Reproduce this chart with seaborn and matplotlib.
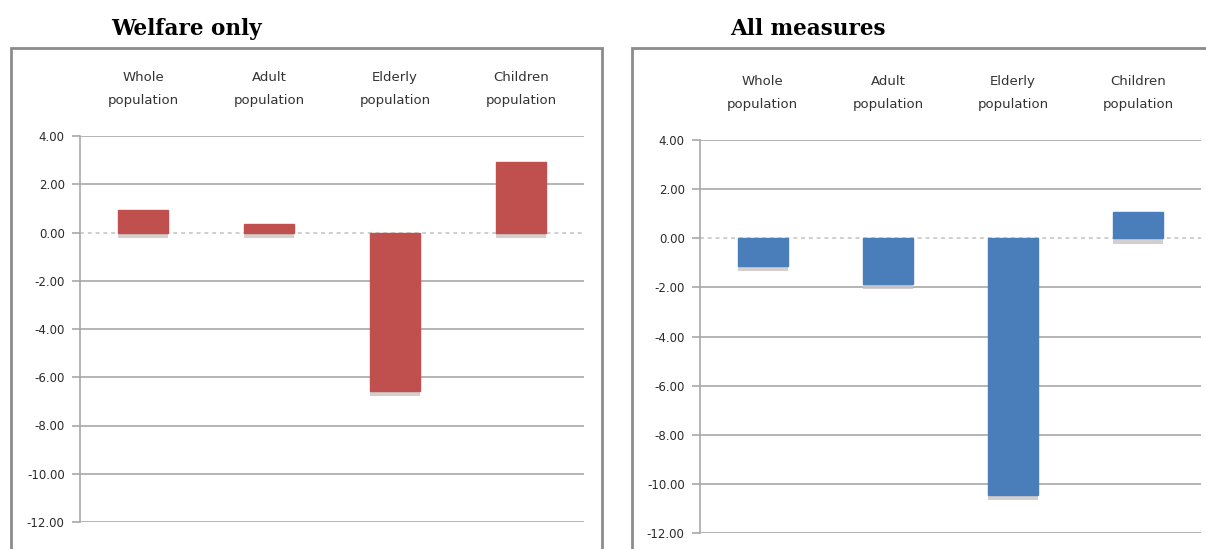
import matplotlib
matplotlib.use("Agg")
import matplotlib.pyplot as plt
import matplotlib.patheffects as pe
from matplotlib.patches import Rectangle
from matplotlib.ticker import FormatStrFormatter
import pandas as pd
import seaborn as sns

# Change in poverty by population group
categories = ["Whole\npopulation", "Adult\npopulation", "Elderly\npopulation", "Children\npopulation"]
welfare_only = [0.92, 0.36, -6.55, 2.93]
all_measures = [-1.12, -1.85, -10.45, 1.07]
panel_titles = ["Welfare only", "All measures"]
y_ticks = [4, 2, 0, -2, -4, -6, -8, -10, -12]

sns.set_theme(style="white")
plt.rcParams["font.family"] = ["DejaVu Sans"]
plt.rcParams["axes.unicode_minus"] = False

W, H = 1206, 549
fig = plt.figure(figsize=(W / 100, H / 100), dpi=100)
fig.patch.set_facecolor("white")


def px_axes(x0, x1, y_top, y_bot):
    return fig.add_axes([x0 / W, 1 - y_bot / H, (x1 - x0) / W, (y_bot - y_top) / H])


# Chart frames
for fx0, fx1 in [(11, 602), (632, 1215)]:
    fig.patches.append(Rectangle((fx0 / W, -0.05), (fx1 - fx0) / W, 1.05 - 48 / H,
                                 transform=fig.transFigure, facecolor="none",
                                 edgecolor="#8c8c8c", lw=2.0, zorder=0))

panels = [
    (welfare_only, "#C0504D", (80, 584, 136, 522), 186),
    (all_measures, "#4A7EBB", (700, 1201, 140, 533), 808),
]

for (values, color, box, title_x), title in zip(panels, panel_titles):
    ax = px_axes(*box)
    df = pd.DataFrame({"group": categories, "value": values})
    sns.barplot(data=df, x="group", y="value", color=color, width=0.4,
                saturation=1, ax=ax, zorder=3)
    for p in ax.patches:
        p.set_edgecolor(color)
        p.set_path_effects([
            pe.SimplePatchShadow(offset=(0, -4), shadow_rgbFace="#c9c4c4", alpha=0.8),
            pe.Normal(),
        ])
    ax.set_xlim(-0.5, 3.5)
    ax.set_ylim(-12, 4)
    ax.set_yticks(y_ticks)
    ax.yaxis.set_major_formatter(FormatStrFormatter("%.2f"))
    ax.set_xlabel("")
    ax.set_ylabel("")
    ax.xaxis.tick_top()
    ax.tick_params(axis="x", length=0, pad=21, labelsize=9.5, labelcolor="#333333")
    for lbl in ax.get_xticklabels():
        lbl.set_linespacing(1.95)
    ax.tick_params(axis="y", length=6, width=1.2, color="#a8a8a8", direction="out",
                   labelsize=8.5, labelcolor="#2a2a2a", pad=5, left=True)
    ax.grid(axis="y", color="#b4b4b4", lw=1.4, zorder=0)
    for gl, t in zip(ax.get_ygridlines(), ax.get_yticks()):
        if t == 0:
            gl.set_color("#cfcfcf")
            gl.set_linestyle((0, (2, 2)))
    for side in ["top", "right", "bottom"]:
        ax.spines[side].set_visible(False)
    ax.spines["left"].set_color("#a8a8a8")
    ax.spines["left"].set_linewidth(1.2)
    ax.set_facecolor("none")
    fig.text(title_x / W, 1 - 29 / H, title, ha="center", va="center",
             fontsize=15.5, fontweight="bold", family="DejaVu Serif", color="black")

fig.savefig("out.png", dpi=100, facecolor="white")
